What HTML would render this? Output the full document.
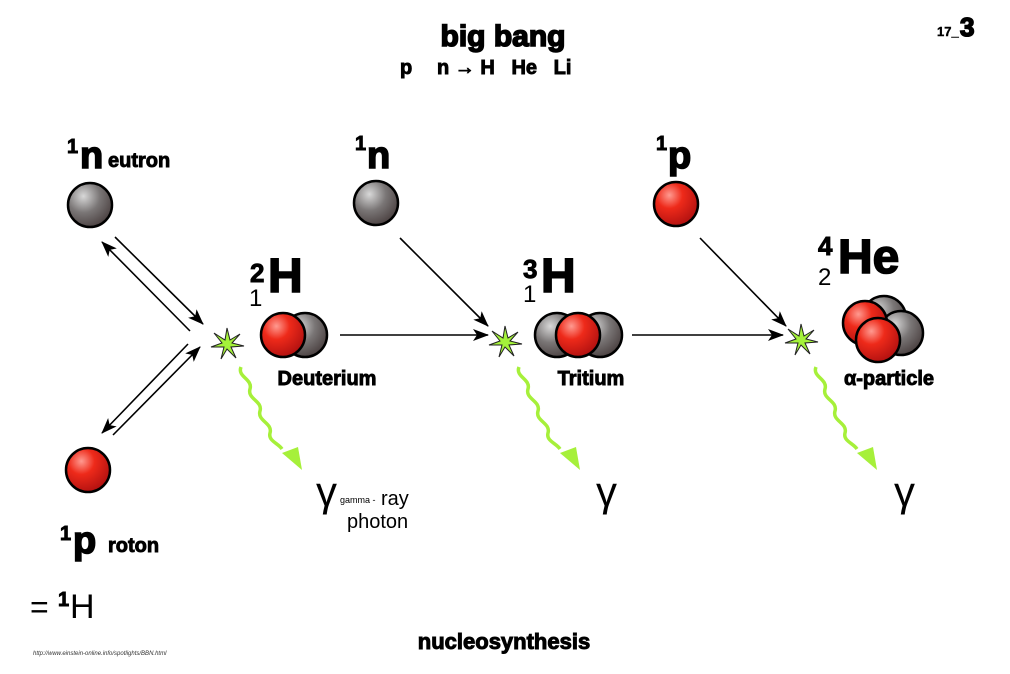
<!DOCTYPE html>
<html><head><meta charset="utf-8"><style>
html,body{margin:0;padding:0;background:#fff;}
svg{display:block;font-family:"Liberation Sans",sans-serif;}
.b{font-weight:bold;stroke:#000;stroke-width:0.9;}
.h{font-weight:bold;stroke:#000;stroke-width:1.6;}
</style></head><body>
<svg width="1010" height="674" viewBox="0 0 1010 674" xmlns="http://www.w3.org/2000/svg">
<defs>
<radialGradient id="red" cx="0.35" cy="0.3" r="0.75">
<stop offset="0" stop-color="#ff9a90"/><stop offset="0.4" stop-color="#ee2a1a"/><stop offset="1" stop-color="#b01010"/></radialGradient>
<radialGradient id="grey" cx="0.35" cy="0.3" r="0.75">
<stop offset="0" stop-color="#d8d8d8"/><stop offset="0.5" stop-color="#7a7676"/><stop offset="1" stop-color="#4a4040"/></radialGradient>
<marker id="ah" markerWidth="16" markerHeight="12" refX="15" refY="6" orient="auto" markerUnits="userSpaceOnUse">
<path d="M0,0 L16,6 L0,12 L4,6 z" fill="#000"/></marker>
<g id="star"><polygon points="0,-16 3,-4 13,-10 5,-1 17,2 4,3 9,14 0,5 -6,15 -3,3 -16,3 -5,-1 -13,-11 -2,-4" fill="#a4f23a" stroke="#222" stroke-width="1"/></g>
<g id="wave"><path d="M0,0 c-4,10 12,12 9,22 c-3,10 13,12 10,22 c-3,10 13,12 10,22 c-2,8 8,10 12,16" fill="none" stroke="#a6f03a" stroke-width="3.5"/>
<path d="M61,103 L41,86 L57,80 z" fill="#a6f03a"/></g>
</defs>

<text x="503" y="46" font-size="30" class="h" text-anchor="middle">big bang</text>
<text x="400" y="74" font-size="20" class="b">p</text>
<text x="437" y="74" font-size="20" class="b">n → H&#160;&#160;&#160;He&#160;&#160;&#160;Li</text>
<text x="937" y="36" font-size="13" class="b" style="stroke-width:0.4">17_</text>
<text x="960" y="36" font-size="26" class="h">3</text>

<!-- left column -->
<text x="67" y="153" font-size="20" class="b">1</text>
<text x="80" y="168" font-size="38" class="h">n</text>
<text x="108" y="167" font-size="20" class="b">eutron</text>
<circle cx="90" cy="205" r="22" fill="url(#grey)" stroke="#000" stroke-width="2.5"/>

<line x1="115" y1="237" x2="203" y2="324" stroke="#000" stroke-width="1.6" marker-end="url(#ah)"/>
<line x1="190" y1="331" x2="102" y2="242" stroke="#000" stroke-width="1.6" marker-end="url(#ah)"/>
<line x1="188" y1="344" x2="102" y2="433" stroke="#000" stroke-width="1.6" marker-end="url(#ah)"/>
<line x1="113" y1="435" x2="200" y2="347" stroke="#000" stroke-width="1.6" marker-end="url(#ah)"/>

<circle cx="88" cy="470" r="22" fill="url(#red)" stroke="#000" stroke-width="2.5"/>
<text x="60" y="540" font-size="20" class="b">1</text>
<text x="73" y="553" font-size="38" class="h">p</text>
<text x="108" y="552" font-size="20" class="b">roton</text>
<text x="30" y="618" font-size="32">=</text>
<text x="58" y="606" font-size="20" class="b">1</text>
<text x="70" y="618" font-size="34">H</text>
<text x="33" y="655" font-size="6" font-style="italic" fill="#333">http://www.einstein-online.info/spotlights/BBN.html</text>

<!-- Deuterium -->
<use href="#star" x="227" y="344"/>
<text x="250" y="282" font-size="26" class="b">2</text>
<text x="249" y="306" font-size="24">1</text>
<text x="268" y="292" font-size="48" class="h">H</text>
<circle cx="305" cy="335" r="22" fill="url(#grey)" stroke="#000" stroke-width="2.5"/>
<circle cx="283" cy="335" r="22" fill="url(#red)" stroke="#000" stroke-width="2.5"/>
<text x="327" y="385" font-size="20" class="b" text-anchor="middle">Deuterium</text>
<line x1="340" y1="335" x2="488" y2="335" stroke="#000" stroke-width="1.6" marker-end="url(#ah)"/>
<use href="#wave" x="241" y="367"/>
<text x="316" y="506" font-size="42">γ</text>
<text x="340" y="503" font-size="9">gamma -</text>
<text x="381" y="505" font-size="20">ray</text>
<text x="347" y="528" font-size="20">photon</text>

<!-- 1n -->
<text x="355" y="150" font-size="20" class="b">1</text>
<text x="367" y="168" font-size="38" class="h">n</text>
<circle cx="376" cy="203" r="22" fill="url(#grey)" stroke="#000" stroke-width="2.5"/>
<line x1="400" y1="238" x2="488" y2="326" stroke="#000" stroke-width="1.6" marker-end="url(#ah)"/>

<!-- Tritium -->
<use href="#star" x="505" y="342"/>
<text x="523" y="278" font-size="26" class="b">3</text>
<text x="523" y="302" font-size="24">1</text>
<text x="541" y="292" font-size="48" class="h">H</text>
<circle cx="600" cy="335" r="22" fill="url(#grey)" stroke="#000" stroke-width="2.5"/>
<circle cx="557" cy="335" r="22" fill="url(#grey)" stroke="#000" stroke-width="2.5"/>
<circle cx="578" cy="335" r="22" fill="url(#red)" stroke="#000" stroke-width="2.5"/>
<text x="591" y="385" font-size="20" class="b" text-anchor="middle">Tritium</text>
<line x1="632" y1="335" x2="783" y2="335" stroke="#000" stroke-width="1.6" marker-end="url(#ah)"/>
<use href="#wave" x="519" y="367"/>
<text x="596" y="506" font-size="42">γ</text>

<!-- 1p -->
<text x="656" y="150" font-size="20" class="b">1</text>
<text x="668" y="168" font-size="38" class="h">p</text>
<circle cx="676" cy="204" r="22" fill="url(#red)" stroke="#000" stroke-width="2.5"/>
<line x1="700" y1="238" x2="786" y2="326" stroke="#000" stroke-width="1.6" marker-end="url(#ah)"/>

<!-- He -->
<use href="#star" x="801" y="340"/>
<text x="818" y="255" font-size="26" class="b">4</text>
<text x="818" y="285" font-size="24">2</text>
<text x="838" y="273" font-size="48" class="h">He</text>
<circle cx="884" cy="318" r="22" fill="url(#grey)" stroke="#000" stroke-width="2.5"/>
<circle cx="901" cy="333" r="22" fill="url(#grey)" stroke="#000" stroke-width="2.5"/>
<circle cx="865" cy="323" r="22" fill="url(#red)" stroke="#000" stroke-width="2.5"/>
<circle cx="878" cy="340" r="22" fill="url(#red)" stroke="#000" stroke-width="2.5"/>
<text x="889" y="385" font-size="20" class="b" text-anchor="middle">α-particle</text>
<use href="#wave" x="816" y="367"/>
<text x="894" y="506" font-size="42">γ</text>

<text x="504" y="649" font-size="22" class="h" style="stroke-width:1" text-anchor="middle">nucleosynthesis</text>
</svg>
</body></html>
